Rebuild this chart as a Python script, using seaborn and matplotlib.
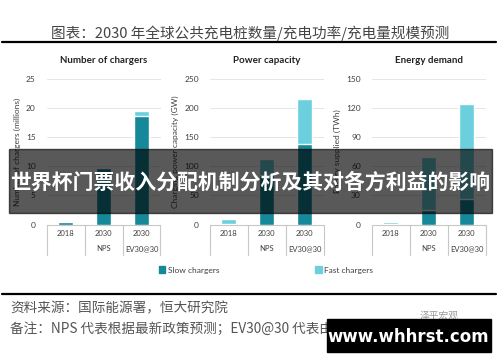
import matplotlib
matplotlib.use("Agg")
import matplotlib.pyplot as plt
import pandas as pd
import seaborn as sns
from matplotlib.patches import Rectangle, Patch

sns.set_style("white")
plt.rcParams['font.family'] = ['Lato', 'Noto Sans CJK SC', 'DejaVu Sans']

# data
categories = ["2018", "2030\nNPS", "2030\nEV30@30"]
chargers_slow = [0.45, 9.6, 18.6]
chargers_fast = [0.05, 0.3, 0.9]
power_slow = [1.0, 85, 137]
power_fast = [9.0, 28, 78]
energy_slow = [0.5, 15, 26]
energy_fast = [2.5, 54, 98]

panel_titles = ["Number of chargers", "Power capacity", "Energy demand"]
y_labels = ["Number of chargers (millions)", "Charging power capacity (GW)",
            "Energy supplied (TWh)"]
y_ticks = [[0, 5, 10, 15, 20, 25], [0, 50, 100, 150, 200, 250],
           [0, 30, 60, 90, 120, 150]]

slow_color = "#15899a"
fast_color = "#6ccfdd"

fig = plt.figure(figsize=(5.0, 3.62), dpi=100)
cjk = ["Noto Sans CJK SC", "DejaVu Sans"]

# header
fig.text(0.5, 1 - 33 / 362, "图表：2030 年全球公共充电桩数量/充电功率/充电量规模预测",
         ha="center", va="center", fontsize=10.5, color="#444444",
         fontweight="light", family=cjk)
fig.add_artist(plt.Line2D([0.004, 0.992], [1 - 42 / 362] * 2, color="black", lw=1.6))

lefts = [47 / 500, 210 / 500, 372 / 500]
series = [(chargers_slow, chargers_fast), (power_slow, power_fast),
          (energy_slow, energy_fast)]

for i, (slow, fast) in enumerate(series):
    ax = fig.add_axes([lefts[i], 1 - 224.5 / 362, 0.227, 146 / 362])
    df = pd.DataFrame({"cat": categories, "slow": slow,
                       "total": [s + f for s, f in zip(slow, fast)]})
    sns.barplot(data=df, x="cat", y="total", color=fast_color, width=0.4,
                saturation=1, ax=ax, zorder=2)
    sns.barplot(data=df, x="cat", y="slow", color=slow_color, width=0.4,
                saturation=1, ax=ax, zorder=3)
    ax.set_ylim(0, y_ticks[i][-1])
    ax.set_xlim(-0.5, 2.5)
    ax.set_yticks(y_ticks[i])
    ax.yaxis.grid(True, color="#e0e0e0", lw=0.6, zorder=0)
    ax.set_axisbelow(True)
    for s in ["top", "right", "left"]:
        ax.spines[s].set_visible(False)
    ax.spines["bottom"].set_color("#c8c8c8")
    ax.spines["bottom"].set_linewidth(0.8)
    ax.tick_params(axis="y", length=0, pad=8, labelsize=6, labelcolor="#404040")
    ax.tick_params(axis="x", length=0, pad=4, labelsize=5.5, labelcolor="#404040")
    for lab in ax.get_xticklabels():
        lab.set_linespacing(2.3)
    for xv in [-0.5, 0.5, 1.5, 2.5]:
        ax.plot([xv, xv], [0, -0.21], color="#c8c8c8", lw=0.8,
                transform=ax.get_xaxis_transform(), clip_on=False)
    ax.set_xlabel("")
    ax.set_ylabel(y_labels[i], fontsize=6, color="#404040", labelpad=4)
    ax.set_title(panel_titles[i], fontsize=7, fontweight="bold", color="#222222", pad=11)

handles = [Patch(color=slow_color), Patch(color=fast_color)]
fig.legend(handles, ["Slow chargers", "Fast chargers"], loc="center",
           bbox_to_anchor=(266 / 500, 1 - 270 / 362), ncol=2, frameon=False,
           fontsize=6, handlelength=0.8, handleheight=0.8, handletextpad=0.3,
           columnspacing=11.5, labelcolor="#404040")

# footer
fig.add_artist(plt.Line2D([0.004, 0.992], [1 - 294 / 362] * 2, color="black", lw=1.6))
fig.text(10 / 500, 1 - 308 / 362, "资料来源：国际能源署，恒大研究院", fontsize=9.8,
         style="italic", color="#555555", va="center", family=cjk)
fig.text(10 / 500, 1 - 329 / 362,
         "备注：NPS 代表根据最新政策预测；EV30@30 代表由 EV30 国家政策预测",
         fontsize=9.8, style="italic", color="#555555", va="center", family=cjk)
fig.text(420 / 500, 1 - 316 / 362, "泽平宏观", fontsize=7, color="#9a9a9a",
         va="center", family=cjk)

# overlays
fig.add_artist(Rectangle((9 / 500, 1 - 213 / 362), 483 / 500, 64 / 362,
                         transform=fig.transFigure, color="black", alpha=0.65,
                         zorder=10))
fig.text(250 / 500, 1 - 182 / 362, "世界杯门票收入分配机制分析及其对各方利益的影响",
         ha="center", va="center", fontsize=15, fontweight="bold", color="white",
         family=cjk, zorder=11)
fig.add_artist(Rectangle((327 / 500, 1 - 352 / 362), 164 / 500, 33 / 362,
                         transform=fig.transFigure, color="black", zorder=10))
fig.text(408 / 500, 1 - 337 / 362, "www.whhrst.com", ha="center", va="center",
         fontsize=12, fontweight="bold", color="white",
         family=["DejaVu Sans"], zorder=11)

fig.savefig("out.png", dpi=100)
